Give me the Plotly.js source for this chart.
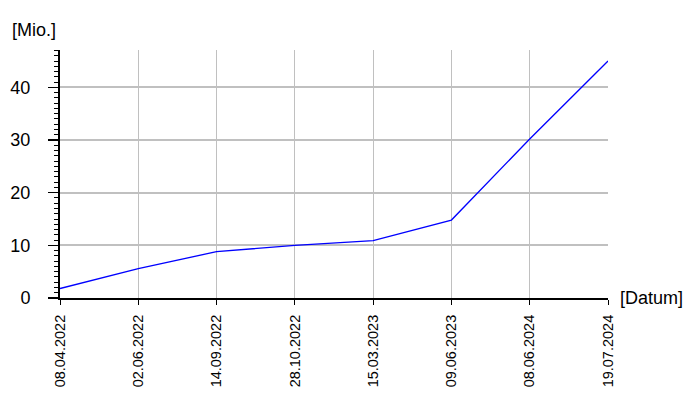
<!DOCTYPE html>
<html>
<head>
<meta charset="utf-8">
<script src="https://cdn.plot.ly/plotly-3.0.1.min.js"></script>
<style>html,body{margin:0;padding:0;background:#fff;}#chart{width:700px;height:400px;}</style>
</head>
<body>
<div id="chart"></div>
<script>
const dates = ["08.04.2022","02.06.2022","14.09.2022","28.10.2022","15.03.2023","09.06.2023","08.06.2024","19.07.2024"];
const values = [1.8, 5.6, 8.8, 10.0, 10.9, 14.8, 30.2, 45.0];
const yTicks = [0, 10, 20, 30, 40];
const yUnit = "[Mio.]";
const xUnit = "[Datum]";

const font = "Liberation Sans, Arial, sans-serif";

const trace = {
  x: dates, y: values, type: "scatter", mode: "lines",
  line: {color: "#0000ff", width: 1.3},
  hoverinfo: "skip"
};

const layout = {
  width: 700, height: 400,
  margin: {l: 60, r: 92, t: 50, b: 102},
  paper_bgcolor: "#fff", plot_bgcolor: "#fff",
  showlegend: false,
  font: {family: font, color: "#000"},
  xaxis: {
    type: "category",
    range: [0, dates.length - 1],
    showgrid: true, gridcolor: "#c0c0c0", gridwidth: 1,
    showline: true, linecolor: "#000", linewidth: 2,
    ticks: "outside", ticklen: 5, tickcolor: "#000", tickwidth: 1,
    tickangle: -90,
    tickfont: {family: font, size: 14.5, color: "#000"},
    ticklabelstandoff: 4,
    zeroline: false, fixedrange: true
  },
  yaxis: {
    range: [0, 47.1],
    tickvals: yTicks,
    showgrid: true, gridcolor: "#c0c0c0", gridwidth: 2,
    showline: true, linecolor: "#000", linewidth: 2,
    ticks: "outside", ticklen: 10, tickcolor: "#000", tickwidth: 1.5,
    tickfont: {family: font, size: 18, color: "#000"},
    ticklabelstandoff: 14,
    minor: {dtick: 1, ticks: "outside", ticklen: 4, tickcolor: "#000", tickwidth: 1, showgrid: false},
    zeroline: false, fixedrange: true
  },
  annotations: [
    {text: yUnit, xref: "paper", yref: "paper", x: -50/548, y: 1 + 20/248,
     xanchor: "left", yanchor: "middle", showarrow: false,
     font: {family: font, size: 18, color: "#000"}},
    {text: xUnit, xref: "paper", yref: "paper", x: 1 + 10/548, y: 0,
     xanchor: "left", yanchor: "middle", showarrow: false,
     font: {family: font, size: 18, color: "#000"}}
  ]
};

Plotly.newPlot("chart", [trace], layout, {displayModeBar: false, staticPlot: true});
</script>
</body>
</html>
